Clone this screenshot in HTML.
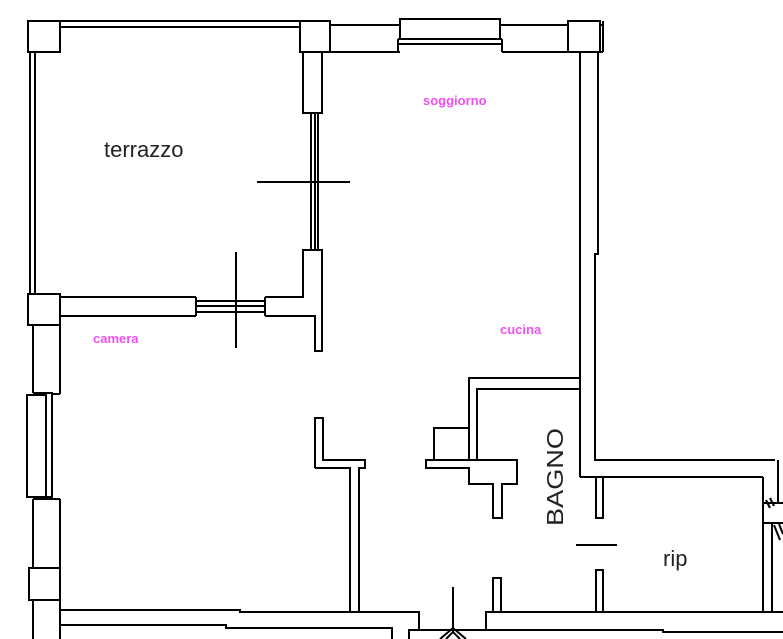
<!DOCTYPE html>
<html><head><meta charset="utf-8"><style>
html,body{margin:0;padding:0;background:#fff;width:783px;height:639px;overflow:hidden}
svg{display:block}
.l{fill:none;stroke:#000;stroke-width:2}
.t{font-family:"Liberation Sans",sans-serif}
.m{fill:#f050f0;font-weight:bold;font-size:13px}
</style></head><body>
<svg width="783" height="639" viewBox="0 0 783 639" xmlns="http://www.w3.org/2000/svg">
<g class="l">
<rect x="28" y="21" width="32" height="31"/>
<line x1="60" y1="21" x2="300" y2="21"/><line x1="60" y1="27" x2="300" y2="27"/>
<rect x="300" y="21" width="30" height="31"/>
<line x1="330" y1="25" x2="400" y2="25"/><line x1="330" y1="52" x2="400" y2="52"/>
<rect x="400" y="19" width="100" height="20"/>
<line x1="398" y1="39" x2="502" y2="39"/><line x1="398" y1="44" x2="502" y2="44"/>
<line x1="398" y1="39" x2="398" y2="52"/><line x1="502" y1="39" x2="502" y2="52"/>
<line x1="500" y1="25" x2="568" y2="25"/><line x1="502" y1="52" x2="568" y2="52"/>
<rect x="568" y="21" width="32" height="31"/>
<line x1="600" y1="25" x2="603" y2="25"/><line x1="600" y1="52" x2="603" y2="52"/><line x1="603" y1="21" x2="603" y2="52"/>
<line x1="30" y1="52" x2="30" y2="294"/><line x1="35" y1="52" x2="35" y2="294"/>
<rect x="28" y="294" width="32" height="31"/>
<line x1="60" y1="297" x2="196" y2="297"/><line x1="60" y1="316" x2="196" y2="316"/>
<line x1="196" y1="297" x2="196" y2="316"/>
<line x1="196" y1="301" x2="265" y2="301"/><line x1="196" y1="306" x2="265" y2="306"/><line x1="196" y1="312" x2="265" y2="312"/>
<line x1="265" y1="297" x2="265" y2="316"/>
<polyline points="265,297 303,297 303,250 322,250 322,351 315,351 315,316 265,316"/>
<polyline points="303,52 303,113 322,113 322,52"/>
<line x1="311" y1="113" x2="311" y2="250"/><line x1="315" y1="113" x2="315" y2="250"/><line x1="318" y1="113" x2="318" y2="250"/>
<line x1="257" y1="182" x2="350" y2="182"/>
<line x1="236" y1="252" x2="236" y2="348"/>
<line x1="580" y1="52" x2="580" y2="477"/>
<polyline points="598,52 598,254 595,254 595,460 775,460"/>
<line x1="580" y1="477" x2="763" y2="477"/>
<line x1="763" y1="477" x2="763" y2="612"/>
<line x1="778" y1="460" x2="778" y2="503"/>
<polyline points="763,503 783,503"/><polyline points="763,523 783,523"/>
<line x1="772" y1="523" x2="772" y2="612"/>
<line x1="766" y1="500" x2="770" y2="508"/><line x1="770" y1="498" x2="774" y2="506"/>
<line x1="774" y1="525" x2="780" y2="540"/><line x1="779" y1="524" x2="783" y2="534"/>
<polyline points="580,378 469,378 469,460"/>
<polyline points="580,389 477,389 477,460"/>
<polyline points="469,428 434,428 434,460"/>
<polygon points="426,460 517,460 517,484 502,484 502,518 493,518 493,484 469,484 469,468 426,468"/>
<rect x="596" y="477" width="7" height="41"/>
<rect x="596" y="570" width="7" height="42"/>
<line x1="576" y1="545" x2="617" y2="545"/>
<rect x="493" y="578" width="8" height="34"/>
<line x1="453" y1="587" x2="453" y2="632"/>
<path d="M440,639 L453,628 L466,639 M446,639 L453,632 L460,639"/>
<polyline points="315,468 315,418 323,418 323,460 365,460 365,468 359,468 359,612"/>
<polyline points="315,468 350,468 350,612"/>
<polyline points="60,610 240,610 240,612 419,612 419,630"/>
<polyline points="60,625 226,625 226,628 392,628 392,639"/>
<polyline points="409,639 409,630 663,630 663,632 783,632"/>
<polyline points="486,630 486,612 783,612"/>
<line x1="33" y1="325" x2="33" y2="393"/><line x1="60" y1="325" x2="60" y2="394"/>
<polyline points="33,393 52,393 52,394 60,394"/>
<rect x="27" y="395" width="19" height="102"/>
<line x1="52" y1="394" x2="52" y2="499"/>
<polyline points="33,499 52,499 52,497 46,497"/>
<line x1="33" y1="499" x2="33" y2="568"/><line x1="60" y1="499" x2="60" y2="568"/>
<line x1="52" y1="499" x2="60" y2="499"/>
<rect x="29" y="568" width="31" height="32"/>
<line x1="33" y1="600" x2="33" y2="639"/><line x1="60" y1="600" x2="60" y2="639"/>
</g>
<text class="t" x="104" y="157" font-size="22" fill="#222">terrazzo</text>
<text class="t m" x="423" y="105">soggiorno</text>
<text class="t m" x="93" y="343">camera</text>
<text class="t m" x="500" y="334">cucina</text>
<text class="t" x="0" y="0" font-size="23" fill="#222" transform="translate(563,526) rotate(-90)" textLength="98" lengthAdjust="spacingAndGlyphs">BAGNO</text>
<text class="t" x="663" y="566" font-size="22" fill="#222">rip</text>
</svg>
</body></html>
